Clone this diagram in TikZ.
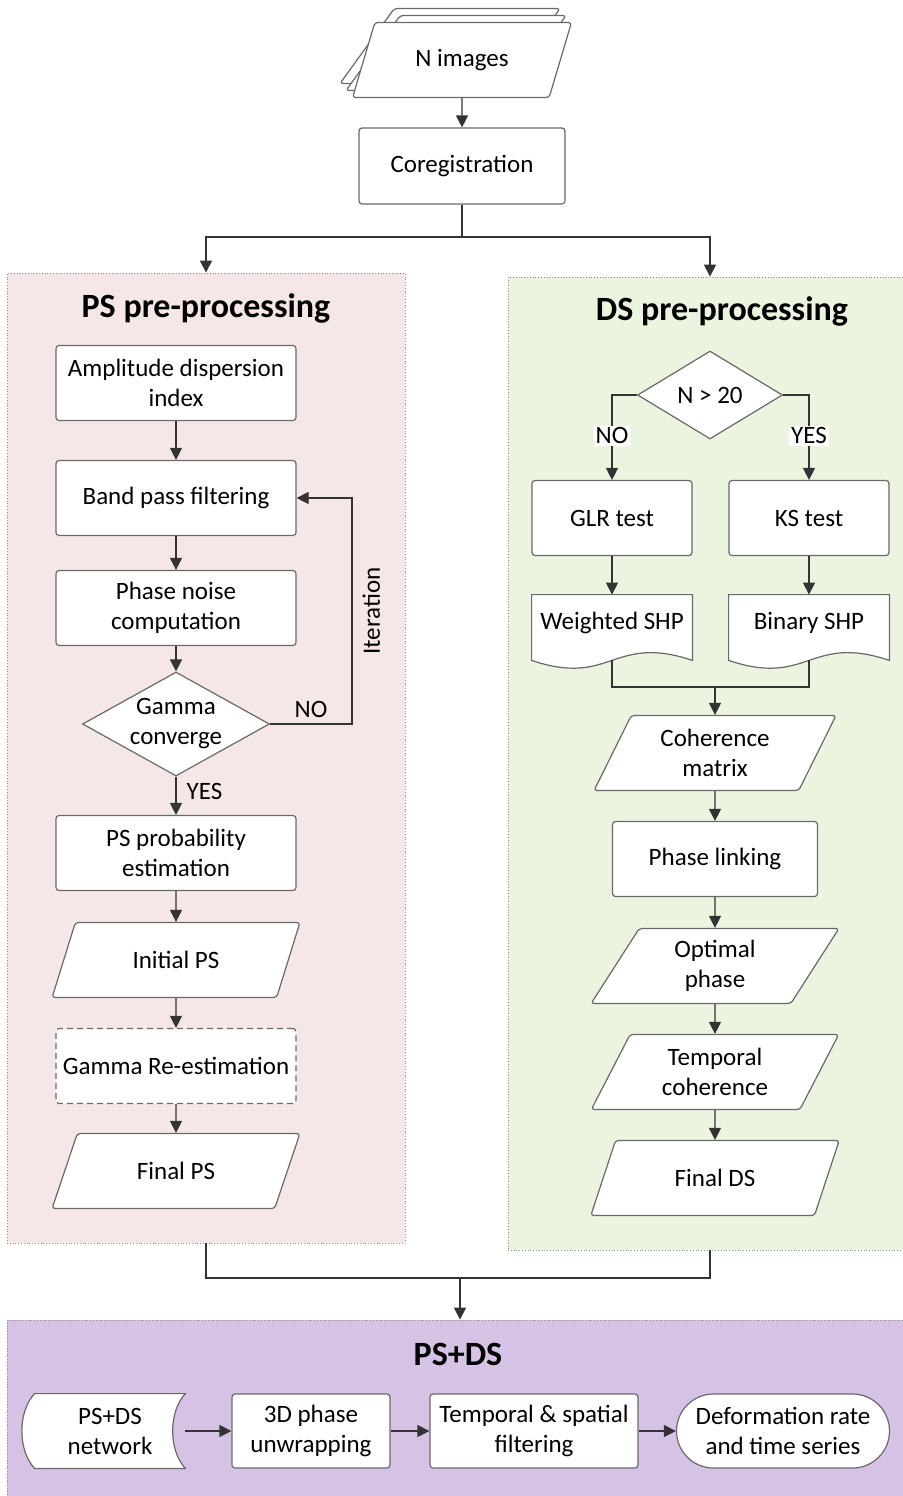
\documentclass[tikz,border=0pt]{standalone}
\usepackage{fontspec}
\setmainfont{Carlito}
\usetikzlibrary{shapes.geometric,arrows.meta,backgrounds}

\definecolor{pspink}{RGB}{246,231,231}
\definecolor{dsgreen}{RGB}{234,244,223}
\definecolor{mixpurple}{RGB}{214,194,228}
\definecolor{boxline}{RGB}{105,105,105}

\tikzset{
  box/.style={draw=boxline, fill=white, line width=0.6pt, rounded corners=1.5pt, align=center, minimum width=120pt, minimum height=37.5pt, inner sep=2pt},
  para/.style={trapezium, trapezium left angle=64, trapezium right angle=116, trapezium stretches=true, draw=boxline, fill=white, line width=0.6pt, rounded corners=1.5pt, align=center, minimum width=124.5pt, minimum height=37.5pt, inner sep=1pt},
  decision/.style={diamond, draw=boxline, fill=white, line width=0.6pt, align=center, inner sep=0pt, aspect=1.8},
  docnode/.style={align=center, inner sep=0pt, minimum width=80pt, minimum height=28pt},
  docline/.style={draw=boxline, fill=white, line width=0.6pt},
  panel/.style={draw=black!45, densely dotted, line width=0.4pt},
  paneltitle/.style={font=\fontsize{17}{20}\selectfont\bfseries},
  conn/.style={draw=black!80, line width=0.6pt},
  conarr/.style={conn, -{Triangle[width=6pt,length=6pt]}},
  lbl/.style={inner sep=1pt}
}

\begin{document}
\begin{tikzpicture}[x=0.5pt, y=-0.5pt, font=\fontsize{12.5}{15}\selectfont]
  \useasboundingbox (0,0) rectangle (902,1496);

  \begin{scope}[on background layer]
    \node[panel, fill=pspink, minimum width=199pt, minimum height=485pt] (pspanel) at (206,758) {};
    \node[panel, fill=dsgreen, minimum width=202pt, minimum height=486.5pt] (dspanel) at (710,763.5) {};
    \node[panel, fill=mixpurple, minimum width=453pt, minimum height=95pt] (mixpanel) at (460,1415) {};
  \end{scope}

  \node[para, minimum width=110pt] (nimgc) at (450,46) {};
  \node[para, minimum width=110pt] (nimgb) at (456,53) {};
  \node[para, minimum width=110pt] (nimg) at (462,60) {N images};
  \node[box, minimum width=103pt, minimum height=38pt] (coreg) at (462,166) {Coregistration};
  \coordinate (split) at (462,237);
  \draw[conarr] (nimg) -- (coreg);
  \draw[conn] (coreg) -- (split);
  \draw[conarr] (split) -| (pspanel.north);
  \draw[conarr] (split) -| (dspanel.north);

  \node[paneltitle] (pstitle) at (206,308) {PS pre-processing};
  \node[box] (amp) at (176,383) {Amplitude dispersion\\index};
  \node[box] (band) at (176,498) {Band pass filtering};
  \node[box] (noise) at (176,608) {Phase noise\\computation};
  \node[decision, minimum width=93.5pt, minimum height=52pt] (gamma) at (176,724) {Gamma\\converge};
  \node[box] (psprob) at (176,853) {PS probability\\estimation};
  \node[para] (initps) at (176,960) {Initial PS};
  \node[box, dash pattern=on 3pt off 2pt] (gamre) at (176,1066) {Gamma Re-estimation};
  \node[para] (finalps) at (176,1171) {Final PS};
  \coordinate (loop) at (352,724);
  \draw[conarr] (amp) -- (band);
  \draw[conarr] (band) -- (noise);
  \draw[conarr] (noise) -- (gamma);
  \draw[conarr] (gamma.east) -- node[lbl, above=2pt] {NO} (loop) |- node[lbl, pos=0.25, rotate=90, below=4pt] {Iteration} (band.east);
  \draw[conarr] (gamma) -- node[lbl, pos=0.4, right=4pt] {YES} (psprob);
  \draw[conarr] (psprob) -- (initps);
  \draw[conarr] (initps) -- (gamre);
  \draw[conarr] (gamre) -- (finalps);

  \node[paneltitle] (dstitle) at (722,311) {DS pre-processing};
  \node[decision, minimum width=72.5pt, minimum height=44pt] (n20) at (710,395) {N > 20};
  \node[box, minimum width=80pt] (glr) at (612,518) {GLR test};
  \node[box, minimum width=80pt] (ks) at (809,518) {KS test};
  \node[docnode] (wshp) at (612,623) {Weighted SHP};
  \node[docnode] (bshp) at (809,623) {Binary SHP};
  \node[para, minimum width=121.5pt] (coh) at (715,753) {Coherence\\matrix};
  \node[box, minimum width=102.5pt] (plink) at (715,859) {Phase linking};
  \node[para] (optph) at (715,966) {Optimal\\phase};
  \node[para] (tcoh) at (715,1072) {Temporal\\coherence};
  \node[para] (finalds) at (715,1178) {Final DS};
  \coordinate (shpjoin) at (715,687);
  \draw[conarr] (n20.west) -| node[lbl, pos=0.74, fill=white] {NO} (glr.north);
  \draw[conarr] (n20.east) -| node[lbl, pos=0.74, fill=white] {YES} (ks.north);
  \draw[conarr] (glr) -- (wshp);
  \draw[conarr] (ks) -- (bshp);
  \draw[conn] ([yshift=-4.5pt]wshp.south) |- (shpjoin);
  \draw[conn] ([yshift=-4.5pt]bshp.south) |- (shpjoin);
  \draw[conarr] (shpjoin) -- (coh);
  \draw[conarr] (coh) -- (plink);
  \draw[conarr] (plink) -- (optph);
  \draw[conarr] (optph) -- (tcoh);
  \draw[conarr] (tcoh) -- (finalds);

  \coordinate (merge) at (460,1278);
  \draw[conn] (pspanel.south) |- (merge);
  \draw[conn] (dspanel.south) |- (merge);
  \draw[conarr] (merge) -- (mixpanel.north);

  \node[paneltitle] (mixtitle) at (458,1354) {PS+DS};
  \node[align=center, inner sep=0pt, minimum width=75pt, minimum height=37pt] (net) at (110,1431) {PS+DS\\network};
  \node[box, minimum width=79pt, minimum height=37pt] (unwrap) at (311,1431) {3D phase\\unwrapping};
  \node[box, minimum width=104pt, minimum height=37pt] (filt) at (534,1431) {Temporal \& spatial\\filtering};
  \node[box, rounded corners=18.5pt, minimum width=106.5pt, minimum height=37pt] (defo) at (783,1431) {Deformation rate\\and time series};
  \draw[conarr] (net) -- (unwrap);
  \draw[conarr] (unwrap) -- (filt);
  \draw[conarr] (filt) -- (defo);

  \begin{scope}[on background layer]
    \draw[docline] (wshp.north west) -- (wshp.north east) -- ([yshift=-4.5pt]wshp.south east) .. controls +(-40pt,13.5pt) and +(40pt,-13.5pt) .. ([yshift=-4.5pt]wshp.south west) -- cycle;
    \draw[docline] (bshp.north west) -- (bshp.north east) -- ([yshift=-4.5pt]bshp.south east) .. controls +(-40pt,13.5pt) and +(40pt,-13.5pt) .. ([yshift=-4.5pt]bshp.south west) -- cycle;
    \draw[docline] (net.north west) -- (net.north east) .. controls +(-8.5pt,-9pt) and +(-8.5pt,9pt) .. (net.south east) -- (net.south west) .. controls +(-8.5pt,9pt) and +(-8.5pt,-9pt) .. (net.north west) -- cycle;
  \end{scope}
\end{tikzpicture}
\end{document}
